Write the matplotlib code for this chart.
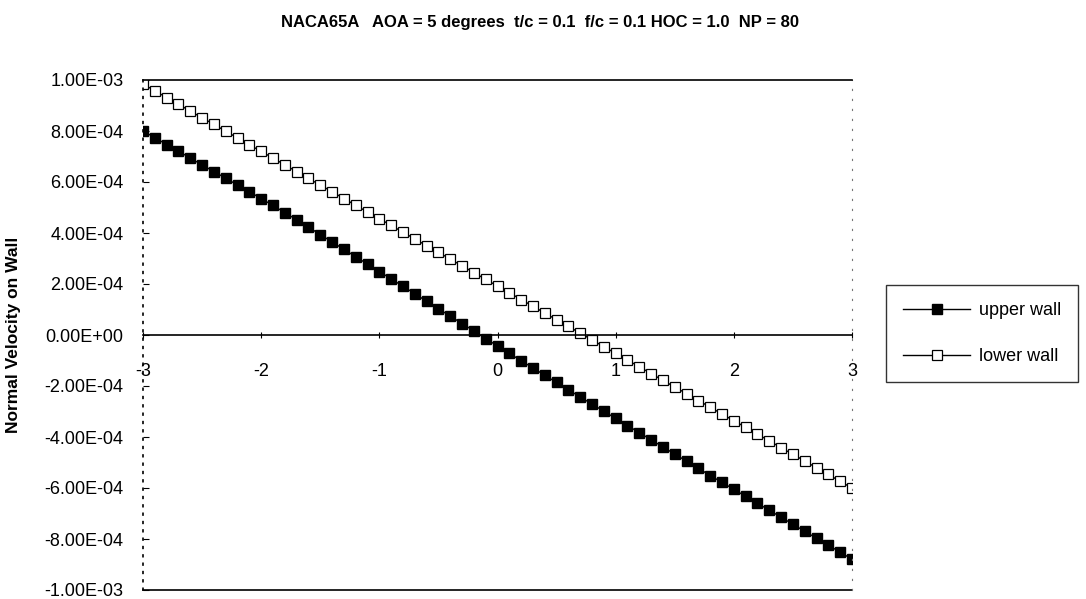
import numpy as np
import matplotlib
matplotlib.use("Agg")
import matplotlib.pyplot as plt
from matplotlib.ticker import FuncFormatter

plt.rcParams['font.family'] = ['Liberation Sans', 'DejaVu Sans']
plt.rcParams['axes.unicode_minus'] = False

# stations along the wall
x = np.linspace(-3, 3, 61)

# normal velocity on the walls (units of 1e-4)
upper_wall = [8.00, 7.74, 7.47, 7.21, 6.94, 6.67, 6.41, 6.15, 5.88, 5.62,
              5.35, 5.08, 4.80, 4.52, 4.23, 3.94, 3.65, 3.36, 3.07, 2.78,
              2.49, 2.20, 1.91, 1.62, 1.32, 1.03, 0.74, 0.45, 0.16, -0.14,
              -0.43, -0.72, -1.01, -1.29, -1.58, -1.86, -2.15, -2.43, -2.71, -2.99,
              -3.27, -3.55, -3.83, -4.11, -4.39, -4.67, -4.95, -5.23, -5.51, -5.78,
              -6.05, -6.33, -6.60, -6.87, -7.15, -7.42, -7.70, -7.97, -8.24, -8.52,
              -8.79]
lower_wall = [9.84, 9.58, 9.31, 9.05, 8.78, 8.52, 8.26, 7.99, 7.73, 7.46,
              7.20, 6.94, 6.67, 6.41, 6.14, 5.88, 5.62, 5.35, 5.09, 4.82,
              4.56, 4.30, 4.03, 3.77, 3.50, 3.24, 2.98, 2.71, 2.45, 2.18,
              1.92, 1.66, 1.39, 1.13, 0.86, 0.60, 0.34, 0.07, -0.19, -0.46,
              -0.72, -0.98, -1.25, -1.51, -1.78, -2.04, -2.30, -2.57, -2.83, -3.10,
              -3.36, -3.62, -3.89, -4.15, -4.42, -4.68, -4.94, -5.21, -5.47, -5.74,
              -6.00]

upper = np.array(upper_wall) * 1e-4
lower = np.array(lower_wall) * 1e-4

W, H = 1086, 599
fig = plt.figure(figsize=(W / 100, H / 100), dpi=100)
ax = fig.add_axes([143 / W, 1 - 590 / H, (852 - 143) / W, (590 - 80) / H])

ax.plot(x, upper, color='black', lw=1.0, marker='s', ms=6.5,
        mfc='black', mec='black', label='upper wall')
ax.plot(x, lower, color='black', lw=1.0, marker='s', ms=6.5,
        mfc='white', mec='black', mew=0.9, label='lower wall')

ax.set_xlim(-3, 3)
ax.set_ylim(-1e-3, 1e-3)
ax.set_yticks(np.arange(-10, 11, 2) * 1e-4)
ax.set_xticks([-3, -2, -1, 0, 1, 2, 3])
ax.yaxis.set_major_formatter(FuncFormatter(lambda v, p: f"{v:.2E}"))

# x axis crosses at zero, frame lines top and bottom
ax.spines['bottom'].set_position(('data', 0))
ax.spines['bottom'].set_linewidth(1.2)
ax.spines['top'].set_linewidth(1.2)
ax.axhline(-1e-3, color='black', lw=1.2, clip_on=False)
ax.spines['left'].set_linestyle((0, (1, 4)))
ax.spines['left'].set_linewidth(1.2)
ax.spines['right'].set_linestyle((0, (1, 8)))
ax.spines['right'].set_color('#777777')

ax.tick_params(axis='y', direction='in', length=4, labelsize=13, pad=14)
ax.tick_params(axis='x', direction='inout', length=5, labelsize=13, pad=18)

ax.set_ylabel('Normal Velocity on Wall', fontsize=12.5, fontweight='bold')
ax.yaxis.set_label_coords(-0.172, 0.5)

fig.text(0.497, 1 - 22 / H,
         'NACA65A   AOA = 5 degrees  t/c = 0.1  f/c = 0.1 HOC = 1.0  NP = 80',
         ha='center', va='center', fontsize=12, fontweight='bold')

leg = ax.legend(loc='upper left', bbox_to_anchor=(886 / W, 1 - 285 / H),
                bbox_transform=fig.transFigure, fontsize=13, frameon=True,
                fancybox=False, edgecolor='black', handlelength=3.7,
                handletextpad=0.5, labelspacing=1.6, borderpad=0.95,
                borderaxespad=0)
leg.get_frame().set_linewidth(1.0)
for h in leg.legend_handles:
    h.set_markersize(7)

fig.savefig('out.png', dpi=100)
